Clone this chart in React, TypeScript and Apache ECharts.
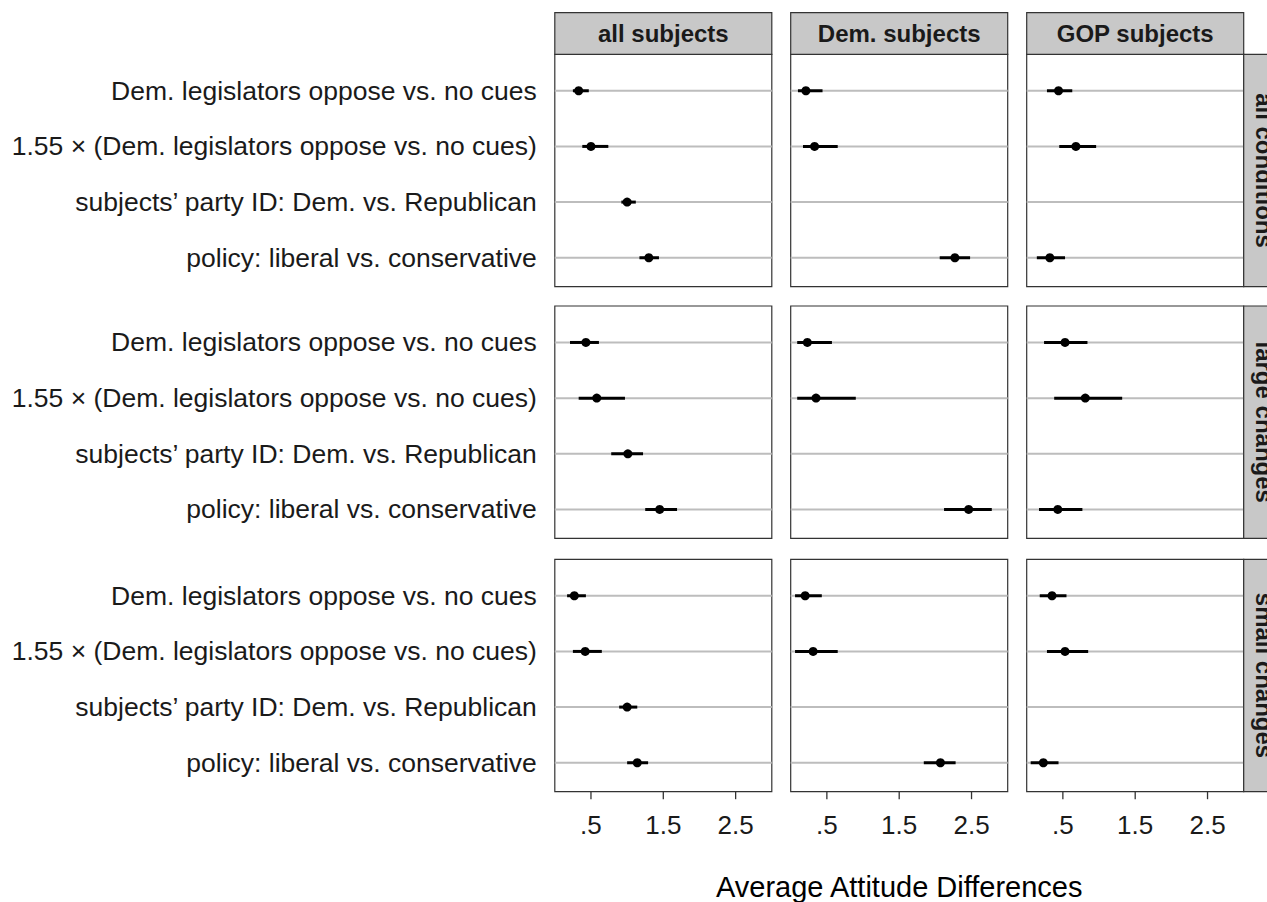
import React, { useEffect, useRef } from "react";
import * as echarts from "echarts";

// ---- data ----
const categories = [
  "Dem. legislators oppose vs. no cues",
  "1.55 × (Dem. legislators oppose vs. no cues)",
  "subjects’ party ID: Dem. vs. Republican",
  "policy: liberal vs. conservative",
];
const subjectGroups = ["all subjects", "Dem. subjects", "GOP subjects"];
const conditions = ["all conditions", "large changes", "small changes"];
const xTicks = [0.5, 1.5, 2.5];
const xTickLabels = [".5", "1.5", "2.5"];
const xMin = 0;
const xMax = 3;
const axisTitle = "Average Attitude Differences";

// [estimate, low, high] per category (null = not estimated)
const allCondAllSubj = [[0.33, 0.25, 0.47], [0.5, 0.38, 0.74], [1.0, 0.92, 1.12], [1.3, 1.17, 1.44]];
const allCondDemSubj = [[0.21, 0.1, 0.44], [0.33, 0.17, 0.65], null, [2.27, 2.06, 2.48]];
const allCondGopSubj = [[0.44, 0.28, 0.63], [0.68, 0.45, 0.96], null, [0.32, 0.14, 0.53]];
const largeAllSubj = [[0.43, 0.21, 0.61], [0.58, 0.33, 0.97], [1.01, 0.78, 1.22], [1.45, 1.25, 1.69]];
const largeDemSubj = [[0.23, 0.09, 0.57], [0.35, 0.09, 0.9], null, [2.46, 2.12, 2.78]];
const largeGopSubj = [[0.53, 0.24, 0.84], [0.81, 0.38, 1.32], null, [0.43, 0.17, 0.77]];
const smallAllSubj = [[0.27, 0.17, 0.43], [0.42, 0.25, 0.65], [1.0, 0.89, 1.14], [1.14, 1.0, 1.29]];
const smallDemSubj = [[0.2, 0.06, 0.43], [0.31, 0.06, 0.65], null, [2.07, 1.84, 2.28]];
const smallGopSubj = [[0.35, 0.18, 0.55], [0.53, 0.28, 0.85], null, [0.23, 0.055, 0.44]];

const panels = [
  [allCondAllSubj, allCondDemSubj, allCondGopSubj],
  [largeAllSubj, largeDemSubj, largeGopSubj],
  [smallAllSubj, smallDemSubj, smallGopSubj],
];

// ---- layout ----
const colLefts = [554.8, 790.7, 1026.7];
const panelW = 217;
const rowTops = [54.3, 306, 559.3];
const panelH = 232.4;
const stripSize = 41.6;
const yMin = -0.655;
const yMax = 3.52;
const FONT = "'Liberation Sans', Arial, Helvetica, sans-serif";

export default function App() {
  const ref = useRef<HTMLDivElement>(null);
  useEffect(() => {
    if (!ref.current) return;
    const chart = echarts.init(ref.current, null, { renderer: "svg" });
    const grid: any[] = [];
    const xAxis: any[] = [];
    const yAxis: any[] = [];
    const series: any[] = [];
    const graphic: any[] = [];

    let gi = 0;
    for (let r = 0; r < 3; r++) {
      for (let c = 0; c < 3; c++) {
        grid.push({
          left: colLefts[c],
          top: rowTops[r],
          width: panelW,
          height: panelH,
          show: true,
          borderColor: "#333333",
          borderWidth: 1.2,
          backgroundColor: "transparent",
          containLabel: false,
        });
        const bottom = r === 2;
        xAxis.push({
          type: "value",
          gridIndex: gi,
          position: "bottom",
          min: xMin,
          max: xMax,
          axisLine: { show: false, onZero: false },
          splitLine: { show: false },
          axisTick: { show: false },
          axisLabel: {
            show: bottom,
            customValues: xTicks,
            margin: 0,
            formatter: (v: number) => {
              const t = xTickLabels[xTicks.indexOf(v)] ?? String(v);
              return "{tick| }\n{gap| }\n{num|" + t + "}";
            },
            rich: {
              tick: {
                width: 1.3,
                height: 7.5,
                lineHeight: 7.5,
                fontSize: 1,
                backgroundColor: "#333333",
                color: "transparent",
              },
              gap: { fontSize: 1, lineHeight: 12.8, height: 12.8, color: "transparent" },
              num: { fontSize: 26, lineHeight: 26, fontFamily: FONT, color: "#1a1a1a" },
            },
          },
        });
        const first = c === 0;
        yAxis.push({
          type: "value",
          gridIndex: gi,
          inverse: true,
          min: yMin,
          max: yMax,
          axisLine: { show: false, onZero: false },
          splitLine: { show: false },
          axisTick: { show: false },
          axisLabel: {
            show: first,
            customValues: [0, 1, 2, 3],
            formatter: (v: number) => categories[Math.round(v)] ?? "",
            fontSize: 26.5,
            fontFamily: FONT,
            color: "#1a1a1a",
            margin: 18,
          },
        });
        // grid lines
        series.push({
          type: "custom",
          xAxisIndex: gi,
          yAxisIndex: gi,
          silent: true,
          data: categories.map((_, i) => [i]),
          encode: { y: 0 },
          renderItem: (params: any, api: any) => {
            const y = api.value(0);
            const a = api.coord([xMin, y]);
            const b = api.coord([xMax, y]);
            return {
              type: "line",
              shape: { x1: a[0], y1: a[1], x2: b[0], y2: b[1] },
              style: { stroke: "#bdbdbd", lineWidth: 2 },
            };
          },
        });
        const pdata: any[] = [];
        panels[r][c].forEach((d: any, i: number) => {
          if (d) pdata.push([d[0], i, d[1], d[2]]);
        });
        series.push({
          type: "custom",
          xAxisIndex: gi,
          yAxisIndex: gi,
          silent: true,
          data: pdata,
          encode: { x: [0, 2, 3], y: 1 },
          renderItem: (params: any, api: any) => {
            const y = api.value(1);
            const p = api.coord([api.value(0), y]);
            const l = api.coord([api.value(2), y]);
            const h = api.coord([api.value(3), y]);
            return {
              type: "group",
              children: [
                {
                  type: "line",
                  shape: { x1: l[0], y1: l[1], x2: h[0], y2: h[1] },
                  style: { stroke: "#000", lineWidth: 3 },
                },
                {
                  type: "circle",
                  shape: { cx: p[0], cy: p[1], r: 4.5 },
                  style: { fill: "#000" },
                },
              ],
            };
          },
        });
        gi++;
      }
    }

    // top strips
    subjectGroups.forEach((s, c) => {
      graphic.push({
        type: "rect",
        shape: { x: colLefts[c], y: rowTops[0] - stripSize, width: panelW, height: stripSize },
        style: { fill: "#c8c8c8", stroke: "#333333", lineWidth: 1.2 },
        z: 10,
      });
      graphic.push({
        type: "text",
        x: colLefts[c] + panelW / 2,
        y: rowTops[0] - stripSize / 2,
        style: {
          text: s,
          fontSize: 24,
          fontWeight: "bold",
          fontFamily: FONT,
          fill: "#1a1a1a",
          align: "center",
          verticalAlign: "middle",
        },
        z: 11,
      });
    });
    // right strips (cut off at the right edge, as in the reference)
    conditions.forEach((s, r) => {
      const x0 = colLefts[2] + panelW;
      graphic.push({
        type: "rect",
        shape: { x: x0, y: rowTops[r], width: stripSize, height: panelH },
        style: { fill: "#c8c8c8", stroke: "#333333", lineWidth: 1.2 },
        z: 10,
      });
      graphic.push({
        type: "text",
        x: x0 + stripSize / 2,
        y: rowTops[r] + panelH / 2,
        rotation: -Math.PI / 2,
        style: {
          text: s,
          fontSize: 24,
          fontWeight: "bold",
          fontFamily: FONT,
          fill: "#1a1a1a",
          align: "center",
          verticalAlign: "middle",
        },
        z: 11,
      });
    });
    graphic.push({
      type: "text",
      x: (colLefts[0] + colLefts[2] + panelW) / 2,
      y: 887,
      style: {
        text: axisTitle,
        fontSize: 29,
        fontFamily: FONT,
        fill: "#000",
        align: "center",
        verticalAlign: "middle",
      },
    });

    chart.setOption({
      animation: false,
      backgroundColor: "#ffffff",
      grid,
      xAxis,
      yAxis,
      series,
      graphic,
    });
    return () => chart.dispose();
  }, []);
  return (
    <div
      ref={ref}
      style={{ position: "absolute", left: 0, top: 0, width: 1267, height: 902, overflow: "hidden" }}
    />
  );
}
